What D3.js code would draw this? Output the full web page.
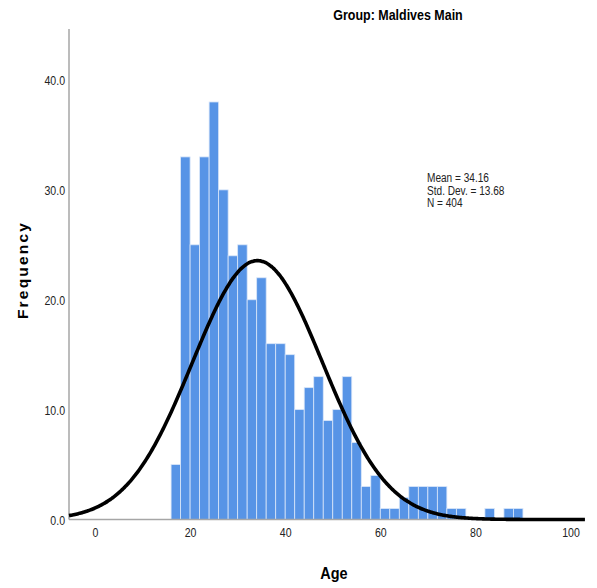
<!DOCTYPE html>
<html lang="en">
<head>
<meta charset="UTF-8">
<title>Group: Maldives Main</title>
<script src="https://d3js.org/d3.v7.min.js"></script>
<style>
  body { margin: 0; background: #ffffff; }
  .narrow { font-family: "Liberation Sans Narrow", "Arial Narrow", "Liberation Sans", Arial, sans-serif; }
</style>
</head>
<body>
<svg id="chart" width="597" height="588"></svg>
<script>

// histogram bins: left edge of each 2-year bin and its count
let binStarts = [16, 18, 20, 22, 24, 26, 28, 30, 32, 34, 36, 38, 40, 42, 44, 46, 48, 50, 52, 54,
                 56, 58, 60, 62, 64, 66, 68, 70, 72, 74, 76, 78, 80, 82, 84, 86, 88];
let counts    = [5, 33, 25, 33, 38, 30, 24, 25, 20, 22, 16, 16, 15, 10, 12, 13, 9, 10, 13, 7,
                 3, 4, 1, 1, 2, 3, 3, 3, 3, 1, 1, 0, 0, 1, 0, 1, 1];
let binWidth = 2;

let xTicks = [0, 20, 40, 60, 80, 100];
let yTicks = [0, 10, 20, 30, 40];

let stats = { mean: 34.16, sd: 13.68, n: 404 };
let legendLines = ['Mean = 34.16', 'Std. Dev. = 13.68', 'N = 404'];

let svg = d3.select('#chart');

let x = d3.scaleLinear().domain([0, 100]).range([95, 570.5]);
let y = d3.scaleLinear().domain([0, 40]).range([519.5, 80]);

let xMin = x.invert(69), xMax = x.invert(585);
let yMax = y.invert(29);

// squeeze text to mimic the narrow font of the original
let condense = function(sel, factor) {
  sel.each(function() {
    let w = this.getComputedTextLength();
    d3.select(this).attr('textLength', w * factor).attr('lengthAdjust', 'spacingAndGlyphs');
  });
};

// bars
svg.append('g').selectAll('rect')
  .data(binStarts.map(function(s, i) { return { start: s, count: counts[i] }; }).filter(function(d) { return d.count > 0; }))
  .enter().append('rect')
    .attr('x', function(d) { return x(d.start); })
    .attr('width', function(d) { return x(d.start + binWidth) - x(d.start); })
    .attr('y', function(d) { return y(d.count); })
    .attr('height', function(d) { return y(0) - y(d.count); })
    .style('fill', '#5794e6')
    .style('stroke', '#d9e6f9')
    .style('stroke-width', 0.8);

// axes (no tick marks)
let xAxis = d3.axisBottom(x).tickValues(xTicks).tickSize(0).tickPadding(9).tickFormat(d3.format('d'));
let yAxis = d3.axisLeft(y).tickValues(yTicks).tickSize(0).tickPadding(4).tickFormat(d3.format('.1f'));

let gx = svg.append('g').attr('transform', 'translate(0,' + y(0) + ')').call(xAxis);
let gy = svg.append('g').attr('transform', 'translate(69,0)').call(yAxis);

gx.select('.domain').attr('d', 'M69,0H585');
gy.select('.domain').attr('d', 'M0,' + y(yMax) + 'V' + y(0));

svg.selectAll('.domain').style('stroke', '#a6a6a6').style('stroke-width', 1.5);
svg.selectAll('.tick text')
  .attr('class', 'narrow')
  .style('font-size', '12px')
  .style('fill', '#222');
gy.selectAll('.tick text').attr('dy', '0.4em');
condense(svg.selectAll('.tick text'), 0.88);

// normal curve from the reported statistics
let curvePts = d3.range(xMin, xMax + 0.01, 0.25).map(function(v) {
  let z = (v - stats.mean) / stats.sd;
  return [v, stats.n * binWidth * Math.exp(-0.5 * z * z) / (stats.sd * Math.sqrt(2 * Math.PI))];
});

svg.append('path')
  .datum(curvePts)
  .attr('d', d3.line().x(function(d) { return x(d[0]); }).y(function(d) { return y(d[1]); }).curve(d3.curveBasis))
  .style('fill', 'none')
  .style('stroke', '#000')
  .style('stroke-width', 3.6);

// title
let title = svg.append('text')
  .attr('class', 'narrow')
  .attr('x', 398).attr('y', 20)
  .attr('text-anchor', 'middle')
  .style('font-size', '14px').style('font-weight', 'bold')
  .text('Group: Maldives Main');
condense(title, 0.89);

// legend
let legend = svg.append('g').selectAll('text')
  .data(legendLines)
  .enter().append('text')
    .attr('class', 'narrow')
    .attr('x', 427)
    .attr('y', function(d, i) { return 182 + i * 12.5; })
    .style('font-size', '12px')
    .style('fill', '#222')
    .text(function(d) { return d; });
condense(legend, 0.84);

// axis titles
let ageLabel = svg.append('text')
  .attr('class', 'narrow')
  .attr('x', 334).attr('y', 579)
  .attr('text-anchor', 'middle')
  .style('font-size', '17px').style('font-weight', 'bold')
  .text('Age');
condense(ageLabel, 0.85);

svg.append('text')
  .attr('transform', 'translate(28,270) rotate(-90)')
  .attr('text-anchor', 'middle')
  .style('font-family', '"Liberation Sans", Arial, sans-serif')
  .style('font-size', '15.5px').style('font-weight', 'bold')
  .style('letter-spacing', '2.2px')
  .text('Frequency');

</script>
</body>
</html>
